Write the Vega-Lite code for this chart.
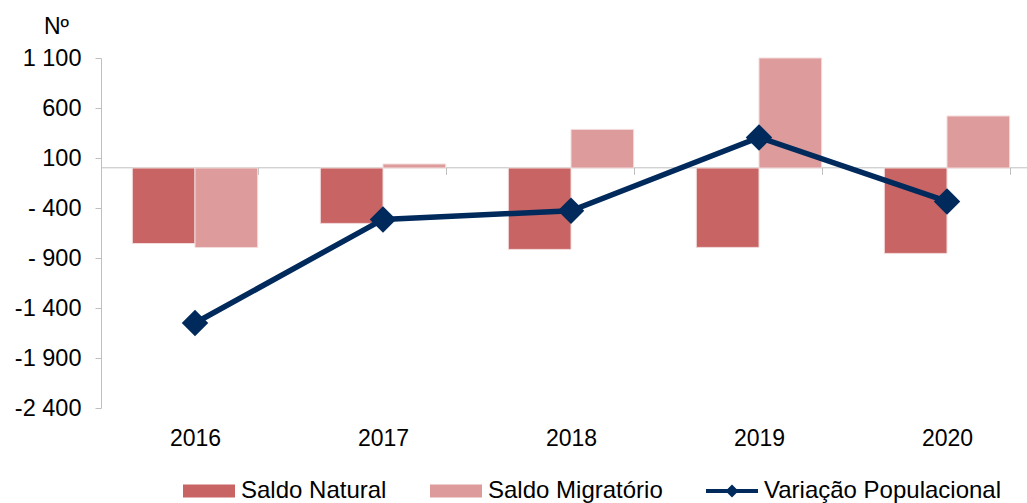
{
  "$schema": "https://vega.github.io/schema/vega-lite/v6.json",
  "width": 940,
  "height": 350,
  "autosize": {"type": "none"},
  "padding": {"left": 101, "top": 58, "right": 0, "bottom": 95},
  "background": "white",
  "config": {"view": {"stroke": null}, "font": "Liberation Sans"},
  "data": {
    "values": [
      {"year": "2016", "series": "Saldo Natural", "value": -755},
      {"year": "2016", "series": "Saldo Migratório", "value": -795},
      {"year": "2016", "series": "Variação Populacional", "value": -1550},
      {"year": "2017", "series": "Saldo Natural", "value": -554},
      {"year": "2017", "series": "Saldo Migratório", "value": 40},
      {"year": "2017", "series": "Variação Populacional", "value": -514},
      {"year": "2018", "series": "Saldo Natural", "value": -814},
      {"year": "2018", "series": "Saldo Migratório", "value": 386},
      {"year": "2018", "series": "Variação Populacional", "value": -428},
      {"year": "2019", "series": "Saldo Natural", "value": -794},
      {"year": "2019", "series": "Saldo Migratório", "value": 1100},
      {"year": "2019", "series": "Variação Populacional", "value": 306},
      {"year": "2020", "series": "Saldo Natural", "value": -854},
      {"year": "2020", "series": "Saldo Migratório", "value": 520},
      {"year": "2020", "series": "Variação Populacional", "value": -334}
    ]
  },
  "layer": [
    {
      "transform": [{"filter": "datum.series !== 'Variação Populacional'"}],
      "mark": {"type": "bar", "stroke": "#f3dcdc", "strokeWidth": 1},
      "encoding": {
        "x": {
          "field": "year",
          "type": "nominal",
          "scale": {"paddingInner": 0.3333, "paddingOuter": 0.1667},
          "axis": {
            "title": null,
            "orient": "bottom",
            "offset": -240.7,
            "labelAngle": 0,
            "labelFontSize": 23,
            "labelColor": "#000000",
            "labelPadding": 253,
            "domainColor": "#bfbfbf",
            "domainWidth": 1,
            "tickColor": "#bfbfbf",
            "tickSize": 7,
            "tickBand": "extent",
            "grid": false
          }
        },
        "xOffset": {
          "field": "series",
          "type": "nominal",
          "sort": ["Saldo Natural", "Saldo Migratório"],
          "scale": {"paddingInner": 0, "paddingOuter": 0}
        },
        "y": {
          "field": "value",
          "type": "quantitative",
          "scale": {"domain": [-2400, 1100], "nice": false, "zero": false},
          "axis": {
            "title": "Nº",
            "titleAngle": 0,
            "titleX": -45,
            "titleY": -25,
            "titleAlign": "center",
            "titleBaseline": "alphabetic",
            "titleFontSize": 23,
            "titleFontWeight": "normal",
            "titleColor": "#000000",
            "values": [-2400, -1900, -1400, -900, -400, 100, 600, 1100],
            "labelExpr": "(datum.value < 0 ? (abs(datum.value) >= 1000 ? '-' : '- ') : '') + replace(format(abs(datum.value), ','), ',', ' ')",
            "labelFontSize": 23.5,
            "labelColor": "#000000",
            "labelPadding": 14,
            "domainColor": "#bfbfbf",
            "tickColor": "#bfbfbf",
            "tickSize": 6,
            "grid": false
          }
        },
        "color": {
          "field": "series",
          "type": "nominal",
          "scale": {
            "domain": ["Saldo Natural", "Saldo Migratório", "Variação Populacional"],
            "range": ["#c86463", "#dd9c9b", "#002a5c"]
          },
          "legend": {
            "title": null,
            "orient": "none",
            "legendX": 82,
            "legendY": 407,
            "direction": "horizontal",
            "padding": 0,
            "labelFontSize": 24,
            "labelColor": "#000000",
            "labelOffset": 6,
            "labelLimit": 0,
            "columnPadding": 43,
            "symbolSize": 2704,
            "symbolOpacity": 1,
            "symbolStrokeWidth": 0,
            "symbolType": {"expr": "datum.value === 'Variação Populacional' ? 'M-1,-0.077L-0.173,-0.077L0,-0.25L0.173,-0.077L1,-0.077L1,0.077L0.173,0.077L0,0.25L-0.173,0.077L-1,0.077Z' : 'M-1,-0.25L1,-0.25L1,0.25L-1,0.25Z'"}
          }
        }
      }
    },
    {
      "transform": [{"filter": "datum.series === 'Variação Populacional'"}],
      "mark": {
        "type": "line",
        "strokeWidth": 5.5,
        "point": {"shape": "diamond", "size": 700, "filled": true, "opacity": 1}
      },
      "encoding": {
        "x": {"field": "year", "type": "nominal"},
        "y": {"field": "value", "type": "quantitative"},
        "color": {"field": "series", "type": "nominal"}
      }
    }
  ]
}
